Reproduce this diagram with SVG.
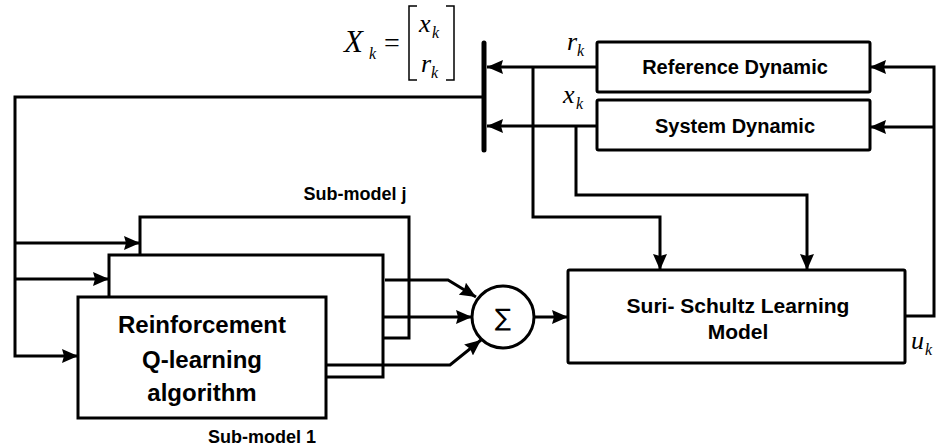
<svg xmlns="http://www.w3.org/2000/svg" width="943" height="448" viewBox="0 0 943 448">
<style>
.box{fill:#fff;stroke:#000;stroke-width:3}
.ln{fill:none;stroke:#000;stroke-width:3}
.lbl{font-family:"Liberation Sans",Arial,sans-serif;font-weight:bold;fill:#000;text-anchor:middle}
.m{font-family:"Liberation Serif","Times New Roman",serif;font-style:italic;fill:#000}
.sub{font-family:"Liberation Serif","Times New Roman",serif;font-style:italic;fill:#000;font-size:16px}
</style>
<defs>
<marker id="arr" viewBox="0 0 16 14" refX="16" refY="7" markerWidth="16" markerHeight="14" orient="auto" markerUnits="userSpaceOnUse">
<path d="M0,0 L16,7 L0,14 L2,7 Z" fill="#000"/>
</marker>
</defs>
<rect width="943" height="448" fill="#fff"/>

<g id="submodel-j">
<rect class="box" x="140" y="217" width="269" height="121"/>
<text class="lbl" x="355" y="200" font-size="18">Sub-model j</text>
</g>
<g id="submodel-mid">
<rect class="box" x="109" y="255" width="274" height="122"/>
</g>
<g id="submodel-1">
<rect class="box" x="78" y="297" width="248" height="121"/>
<text class="lbl" x="202" y="333" font-size="24">Reinforcement</text>
<text class="lbl" x="202" y="368" font-size="24">Q-learning</text>
<text class="lbl" x="202" y="401" font-size="24">algorithm</text>
<text class="lbl" x="262" y="443" font-size="18">Sub-model 1</text>
</g>

<g id="ref-dyn">
<rect class="box" x="597" y="42" width="273" height="50" rx="1.5"/>
<text class="lbl" x="735" y="74" font-size="20">Reference Dynamic</text>
</g>
<g id="sys-dyn">
<rect class="box" x="597" y="100" width="273" height="50" rx="1.5"/>
<text class="lbl" x="735" y="133" font-size="20">System Dynamic</text>
</g>
<g id="suri">
<rect class="box" x="568" y="270" width="337" height="93" rx="1.5"/>
<text class="lbl" x="738" y="313" font-size="21">Suri- Schultz Learning</text>
<text class="lbl" x="738" y="339" font-size="21">Model</text>
</g>
<g id="sum">
<circle cx="503" cy="317" r="31" fill="#fff" stroke="#000" stroke-width="3"/>
<text x="503" y="326" font-family="DejaVu Sans,sans-serif" font-size="24" text-anchor="middle">∑</text>
</g>
<g id="mux">
<line x1="484" y1="43" x2="484" y2="150" stroke="#000" stroke-width="5" stroke-linecap="round"/>
</g>

<g id="connectors">
<path class="ln" d="M597,67 H487" marker-end="url(#arr)"/>
<path class="ln" d="M597,126 H487" marker-end="url(#arr)"/>
<path class="ln" d="M484,97 H15 V356 H78" marker-end="url(#arr)"/>
<path class="ln" d="M15,243 H140" marker-end="url(#arr)"/>
<path class="ln" d="M15,279 H109" marker-end="url(#arr)"/>
<path class="ln" d="M533,67 V217 H660 V270" marker-end="url(#arr)"/>
<path class="ln" d="M576,126 V195 H807 V270" marker-end="url(#arr)"/>
<path class="ln" d="M905,316 H934 V67 H870" marker-end="url(#arr)"/>
<path class="ln" d="M934,127 H870" marker-end="url(#arr)"/>
<path class="ln" d="M385,280 H448 L476,297" marker-end="url(#arr)"/>
<path class="ln" d="M383,317 H472" marker-end="url(#arr)"/>
<path class="ln" d="M326,365 H450 L481,340" marker-end="url(#arr)"/>
<path class="ln" d="M534,317 H568" marker-end="url(#arr)"/>
</g>

<g id="labels">
<text class="m" x="344" y="52" font-size="31">X</text>
<text class="sub" x="369" y="59" font-size="17">k</text>
<text x="384" y="52" font-family="Liberation Serif,serif" font-size="28">=</text>
<path d="M417,6 H409 V80 H417 M446,6 H454 V80 H446" fill="none" stroke="#000" stroke-width="1.5"/>
<text class="m" x="419" y="32" font-size="26">x</text>
<text class="sub" x="432" y="38">k</text>
<text class="m" x="421" y="72" font-size="26">r</text>
<text class="sub" x="431" y="78">k</text>
<text class="m" x="567" y="50" font-size="26">r</text>
<text class="sub" x="577" y="56">k</text>
<text class="m" x="563" y="103" font-size="26">x</text>
<text class="sub" x="576" y="109">k</text>
<text class="m" x="911" y="349" font-size="26">u</text>
<text class="sub" x="925" y="355">k</text>
</g>
</svg>
